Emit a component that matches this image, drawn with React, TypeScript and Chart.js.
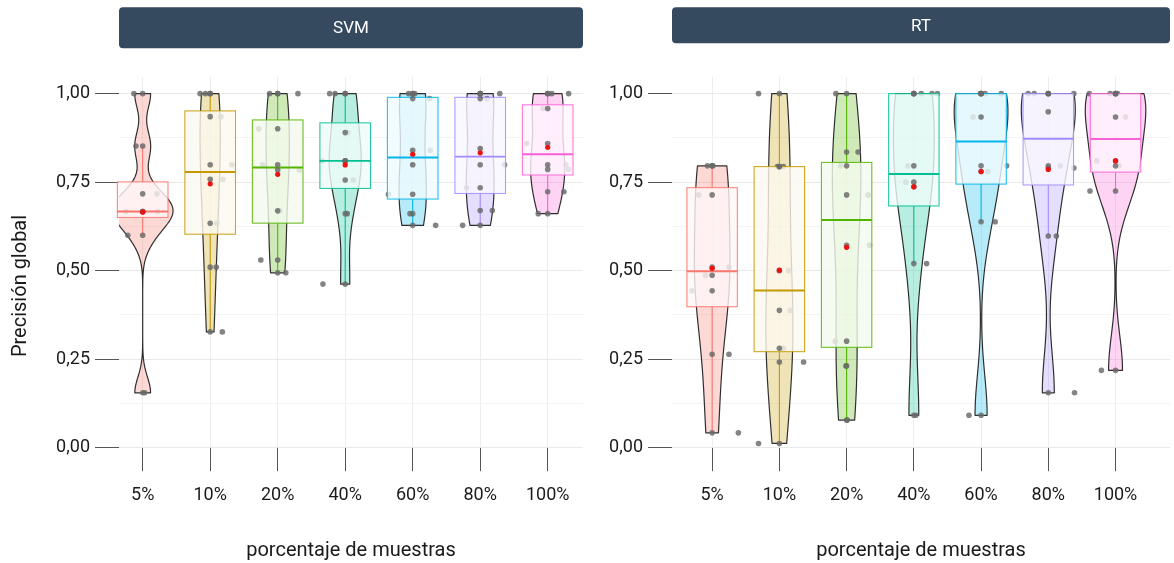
import React, { useEffect, useRef } from "react";
import { Chart, registerables } from "chart.js";

Chart.register(...registerables);

// Sample sizes on the x axis, one colour per size (ggplot hue palette)
const categories = ["5%", "10%", "20%", "40%", "60%", "80%", "100%"];
const groupColors = ["#F8766D", "#C49A00", "#53B400", "#00C094", "#00B6EB", "#A58AFF", "#FB61D7"];

// y grid: labelled majors every 0.25, unlabelled minors in between
const yTickValues = [0, 0.125, 0.25, 0.375, 0.5, 0.625, 0.75, 0.875, 1];
const yMajorTicks = [0, 0.25, 0.5, 0.75, 1];

// SVM – global accuracy of the 8 runs per sample size
const svm5 = [1, 0.852, 0.717, 0.667, 0.667, 0.667, 0.6, 0.155];
const svm10 = [1, 1, 0.935, 0.799, 0.758, 0.634, 0.51, 0.327];
const svm20 = [1, 1, 0.901, 0.799, 0.784, 0.669, 0.53, 0.494];
const svm40 = [1, 1, 0.89, 0.81, 0.81, 0.756, 0.661, 0.462];
const svm60 = [1, 1, 0.986, 0.84, 0.799, 0.716, 0.661, 0.628];
const svm80 = [1, 1, 0.986, 0.845, 0.799, 0.734, 0.67, 0.628];
const svm100 = [1, 1, 0.958, 0.859, 0.799, 0.786, 0.723, 0.661];

// SVM – horizontal jitter of each run (in category units)
const svm5Jitter = [-0.13, -0.1, 0.21, -0.25, 0.22, 0.01, -0.22, 0.03];
const svm10Jitter = [-0.15, -0.07, 0.16, 0.32, 0.19, 0.1, 0.09, 0.18];
const svm20Jitter = [-0.12, 0.3, -0.28, -0.22, 0.32, 0.03, -0.25, 0.12];
const svm40Jitter = [-0.23, -0.15, 0.04, -0.34, 0.01, 0.12, 0.03, -0.33];
const svm60Jitter = [-0.06, 0.03, 0.25, 0.26, 0.0, -0.36, -0.04, 0.34];
const svm80Jitter = [0.29, 0.0, 0.1, 0.0, 0.36, -0.2, 0.18, -0.26];
const svm100Jitter = [0.06, 0.31, -0.07, -0.31, 0.27, 0.31, 0.24, -0.14];

// RT – global accuracy of the 8 runs per sample size
const rt5 = [0.796, 0.796, 0.714, 0.51, 0.487, 0.443, 0.264, 0.042];
const rt10 = [1, 0.794, 0.794, 0.5, 0.388, 0.281, 0.242, 0.012];
const rt20 = [1, 0.835, 0.796, 0.714, 0.572, 0.301, 0.231, 0.078];
const rt40 = [1, 1, 1, 0.796, 0.75, 0.737, 0.52, 0.0915];
const rt60 = [1, 1, 1, 0.934, 0.796, 0.78, 0.638, 0.0915];
const rt80 = [1, 1, 1, 0.949, 0.796, 0.79, 0.598, 0.155];
const rt100 = [1, 1, 1, 0.934, 0.81, 0.796, 0.725, 0.2185];

// RT – horizontal jitter of each run (in category units)
const rt5Jitter = [-0.07, 0.01, -0.2, 0.25, -0.1, -0.3, 0.25, 0.39];
const rt10Jitter = [-0.31, 0.06, -0.03, 0.14, 0.16, 0.06, 0.36, -0.31];
const rt20Jitter = [-0.16, 0.17, -0.09, 0.32, 0.34, -0.17, -0.01, 0.01];
const rt40Jitter = [0.11, 0.27, 0.35, -0.09, -0.12, 0.01, 0.19, 0.03];
const rt60Jitter = [0.06, 0.3, -0.01, -0.12, 0.38, 0.1, 0.21, -0.18];
const rt80Jitter = [-0.3, -0.21, 0.38, -0.01, 0.18, 0.38, 0.12, 0.39];
const rt100Jitter = [-0.39, -0.08, 0.03, 0.15, -0.28, 0.05, -0.38, -0.21];

const svmRuns = [svm5, svm10, svm20, svm40, svm60, svm80, svm100];
const svmJitter = [svm5Jitter, svm10Jitter, svm20Jitter, svm40Jitter, svm60Jitter, svm80Jitter, svm100Jitter];
const rtRuns = [rt5, rt10, rt20, rt40, rt60, rt80, rt100];
const rtJitter = [rt5Jitter, rt10Jitter, rt20Jitter, rt40Jitter, rt60Jitter, rt80Jitter, rt100Jitter];

const FONT = "Roboto, 'Noto Sans', sans-serif";
const TEXT = "#1a1a1a";
const Y_MAX = 1.047;
const BOX_WIDTH = 0.75;
const VIOLIN_WIDTH = 0.9;

function hexToRgba(hex: string, a: number) {
  const n = parseInt(hex.slice(1), 16);
  return `rgba(${(n >> 16) & 255},${(n >> 8) & 255},${n & 255},${a})`;
}

function quantile7(sorted: number[], p: number) {
  const h = (sorted.length - 1) * p;
  const lo = Math.floor(h);
  const hi = Math.min(lo + 1, sorted.length - 1);
  return sorted[lo] + (h - lo) * (sorted[hi] - sorted[lo]);
}

type Summary = {
  q1: number; med: number; q3: number; lo: number; hi: number;
  mean: number; min: number; max: number;
};

function summarize(values: number[]): Summary {
  const s = [...values].sort((a, b) => a - b);
  const q1 = quantile7(s, 0.25);
  const med = quantile7(s, 0.5);
  const q3 = quantile7(s, 0.75);
  const iqr = q3 - q1;
  const lo = s.find((v) => v >= q1 - 1.5 * iqr) ?? s[0];
  const hi = [...s].reverse().find((v) => v <= q3 + 1.5 * iqr) ?? s[s.length - 1];
  const mean = s.reduce((a, b) => a + b, 0) / s.length;
  return { q1, med, q3, lo, hi, mean, min: s[0], max: s[s.length - 1] };
}

// Silverman's rule of thumb (R's bw.nrd0)
function bandwidth(values: number[]) {
  const n = values.length;
  const s = [...values].sort((a, b) => a - b);
  const mean = s.reduce((a, b) => a + b, 0) / n;
  const sd = Math.sqrt(s.reduce((a, v) => a + (v - mean) ** 2, 0) / (n - 1));
  const iqr = quantile7(s, 0.75) - quantile7(s, 0.25);
  let lo = Math.min(sd, iqr / 1.34);
  if (!(lo > 0)) lo = sd || 1;
  return 0.9 * lo * Math.pow(n, -0.2);
}

function kde(values: number[], bw: number, y: number) {
  let sum = 0;
  for (const v of values) {
    const z = (y - v) / bw;
    sum += Math.exp(-0.5 * z * z);
  }
  return sum / (values.length * bw * Math.sqrt(2 * Math.PI));
}

type Violin = { ys: number[]; hw: number[] };

// Trimmed Gaussian densities, widths scaled by area across the panel
function buildViolins(runs: number[][]): Violin[] {
  const steps = 140;
  const shapes = runs.map((vals) => {
    const bw = bandwidth(vals);
    const lo = Math.min(...vals);
    const hi = Math.max(...vals);
    const ys: number[] = [];
    const ds: number[] = [];
    for (let k = 0; k <= steps; k++) {
      const yv = lo + ((hi - lo) * k) / steps;
      ys.push(yv);
      ds.push(kde(vals, bw, yv));
    }
    return { ys, ds };
  });
  const maxD = Math.max(...shapes.flatMap((s) => s.ds));
  return shapes.map((s) => ({ ys: s.ys, hw: s.ds.map((d) => (VIOLIN_WIDTH / 2) * (d / maxD)) }));
}

function makeLayerPlugin(violins: Violin[], stats: Summary[], boxAfterIndex: number) {
  return {
    id: "violinBox",
    beforeDatasetsDraw(chart: any) {
      const { ctx, chartArea, scales } = chart;
      const x = scales.x;
      const y = scales.y;
      ctx.save();
      ctx.beginPath();
      ctx.rect(chartArea.left, chartArea.top, chartArea.right - chartArea.left, chartArea.bottom - chartArea.top);
      ctx.clip();
      violins.forEach((v, g) => {
        const c = g + 1;
        ctx.beginPath();
        for (let k = 0; k < v.ys.length; k++) {
          const px = x.getPixelForValue(c - v.hw[k]);
          const py = y.getPixelForValue(v.ys[k]);
          if (k === 0) ctx.moveTo(px, py);
          else ctx.lineTo(px, py);
        }
        for (let k = v.ys.length - 1; k >= 0; k--) {
          ctx.lineTo(x.getPixelForValue(c + v.hw[k]), y.getPixelForValue(v.ys[k]));
        }
        ctx.closePath();
        ctx.fillStyle = hexToRgba(groupColors[g], 0.28);
        ctx.fill();
        ctx.lineWidth = 1.2;
        ctx.lineJoin = "round";
        ctx.strokeStyle = "rgba(25,25,25,0.9)";
        ctx.stroke();
      });
      ctx.restore();
    },
    afterDatasetDraw(chart: any, args: any) {
      if (args.index !== boxAfterIndex) return;
      const { ctx, scales } = chart;
      const x = scales.x;
      const y = scales.y;
      ctx.save();
      stats.forEach((s, g) => {
        const c = g + 1;
        const col = groupColors[g];
        const cx = x.getPixelForValue(c);
        const x0 = x.getPixelForValue(c - BOX_WIDTH / 2);
        const x1 = x.getPixelForValue(c + BOX_WIDTH / 2);
        const yq1 = y.getPixelForValue(s.q1);
        const yq3 = y.getPixelForValue(s.q3);
        const ymed = y.getPixelForValue(s.med);
        // whiskers
        ctx.strokeStyle = col;
        ctx.lineWidth = 1.1;
        ctx.beginPath();
        ctx.moveTo(cx, y.getPixelForValue(s.hi));
        ctx.lineTo(cx, yq3);
        ctx.moveTo(cx, yq1);
        ctx.lineTo(cx, y.getPixelForValue(s.lo));
        ctx.stroke();
        // box
        ctx.fillStyle = "rgba(255,255,255,0.8)";
        ctx.fillRect(x0, yq3, x1 - x0, yq1 - yq3);
        ctx.fillStyle = hexToRgba(col, 0.05);
        ctx.fillRect(x0, yq3, x1 - x0, yq1 - yq3);
        ctx.strokeStyle = hexToRgba(col, 0.85);
        ctx.lineWidth = 1.1;
        ctx.strokeRect(x0, yq3, x1 - x0, yq1 - yq3);
        // median
        ctx.strokeStyle = col;
        ctx.lineWidth = 1.9;
        ctx.beginPath();
        ctx.moveTo(x0, ymed);
        ctx.lineTo(x1, ymed);
        ctx.stroke();
      });
      ctx.restore();
    },
  };
}

// Facet strip above the panel, plus the optional y-axis caption
const stripPlugin = {
  id: "strip",
  afterDraw(chart: any, _args: any, opts: any) {
    const { ctx, chartArea } = chart;
    const left = chartArea.left;
    const right = chartArea.right;
    ctx.save();
    ctx.fillStyle = "#35495f";
    ctx.beginPath();
    ctx.roundRect(left, opts.top, right - left, opts.bottom - opts.top, 4);
    ctx.fill();
    ctx.fillStyle = "#ffffff";
    ctx.font = `17px ${FONT}`;
    ctx.textAlign = "center";
    ctx.textBaseline = "middle";
    ctx.fillText(opts.text, (left + right) / 2, (opts.top + opts.bottom) / 2 + 1);
    if (opts.yTitle) {
      ctx.translate(opts.yTitleX, opts.yTitleY);
      ctx.rotate(-Math.PI / 2);
      ctx.fillStyle = TEXT;
      ctx.font = `20px ${FONT}`;
      ctx.fillText(opts.yTitle, 0, 0);
    }
    ctx.restore();
  },
};

type PanelProps = {
  title: string;
  runs: number[][];
  jitter: number[][];
  left: number;
  width: number;
  axisWidth: number;
  padRight: number;
  xMin: number;
  xMax: number;
  stripBottom: number;
  yTitle: string;
};

function Panel(props: PanelProps) {
  const ref = useRef<HTMLCanvasElement>(null);

  useEffect(() => {
    const { runs, jitter } = props;
    const stats = runs.map(summarize);
    const violins = buildViolins(runs);

    const jitterPoints = runs.flatMap((vals, g) => vals.map((v, k) => ({ x: g + 1 + jitter[g][k], y: v })));
    const centerPoints = runs.flatMap((vals, g) => vals.map((v) => ({ x: g + 1, y: v })));
    const meanPoints = stats.map((s, g) => ({ x: g + 1, y: s.mean }));

    let chart: Chart | null = null;
    let cancelled = false;

    const build = () => {
      if (cancelled || !ref.current) return;
      chart = new Chart(ref.current, {
        type: "scatter",
        data: {
          datasets: [
            {
              label: "media",
              data: meanPoints,
              order: 1,
              pointRadius: 2.6,
              pointBackgroundColor: "#ee1111",
              pointBorderWidth: 0,
            },
            {
              label: "ejecuciones",
              data: centerPoints,
              order: 2,
              pointRadius: 2.8,
              pointBackgroundColor: "rgba(105,105,105,0.82)",
              pointBorderWidth: 0,
            },
            {
              label: "ejecuciones (jitter)",
              data: jitterPoints,
              order: 3,
              pointRadius: 2.8,
              pointBackgroundColor: "rgba(105,105,105,0.82)",
              pointBorderWidth: 0,
            },
          ],
        },
        options: {
          responsive: false,
          animation: false,
          events: [],
          layout: { padding: { top: 77, left: 0, right: props.padRight, bottom: 0 } },
          plugins: {
            legend: { display: false },
            tooltip: { enabled: false },
            strip: {
              text: props.title,
              top: 7.3,
              bottom: props.stripBottom,
              yTitle: props.yTitle,
              yTitleX: 21,
              yTitleY: 286,
            },
          } as any,
          scales: {
            x: {
              type: "linear",
              min: props.xMin,
              max: props.xMax,
              border: { display: false },
              grid: {
                color: "#ededed",
                lineWidth: 1,
                tickColor: "#555555",
                tickLength: 23.5,
                tickWidth: 1,
              },
              ticks: {
                autoSkip: false,
                maxRotation: 0,
                padding: 13,
                color: TEXT,
                font: { family: FONT, size: 18 },
                callback: (v: any) => categories[Math.round(Number(v)) - 1] ?? "",
              },
              title: {
                display: true,
                text: "porcentaje de muestras",
                color: TEXT,
                font: { family: FONT, size: 20 },
                padding: { top: 0, bottom: 0 },
              },
              afterBuildTicks: (scale: any) => {
                scale.ticks = categories.map((_, i) => ({ value: i + 1 }));
              },
              afterFit: (scale: any) => {
                scale.height = 115.3;
              },
            },
            y: {
              type: "linear",
              min: 0,
              max: Y_MAX,
              border: { display: false },
              grid: {
                color: (ctx: any) =>
                  yMajorTicks.includes(ctx.tick?.value) ? "#e9e9e9" : "#f4f4f4",
                tickColor: (ctx: any) =>
                  yMajorTicks.includes(ctx.tick?.value) ? "#555555" : "rgba(0,0,0,0)",
                lineWidth: 1,
                tickLength: 24,
              },
              ticks: {
                autoSkip: false,
                padding: 5,
                color: TEXT,
                font: { family: FONT, size: 18 },
                callback: (v: any) =>
                  yMajorTicks.includes(Number(v)) ? Number(v).toFixed(2).replace(".", ",") : "",
              },
              afterBuildTicks: (scale: any) => {
                scale.ticks = yTickValues.map((v) => ({ value: v }));
              },
              afterFit: (scale: any) => {
                scale.width = props.axisWidth;
              },
            },
          },
        } as any,
        plugins: [makeLayerPlugin(violins, stats, 2) as any, stripPlugin as any],
      });
    };

    const fonts = (document as any).fonts;
    if (fonts && fonts.load) {
      Promise.all([fonts.load(`17px Roboto`), fonts.load(`20px Roboto`)]).then(build, build);
    } else {
      build();
    }

    return () => {
      cancelled = true;
      if (chart) chart.destroy();
    };
  }, []);

  return (
    <canvas
      ref={ref}
      width={props.width}
      height={563}
      style={{ position: "absolute", left: props.left, top: 0, width: props.width, height: 563 }}
    />
  );
}

export default function App() {
  return (
    <div
      style={{
        position: "fixed",
        left: 0,
        top: 0,
        width: 1174,
        height: 563,
        background: "#ffffff",
        overflow: "hidden",
      }}
    >
      <Panel
        title="SVM"
        runs={svmRuns}
        jitter={svmJitter}
        left={0}
        width={592}
        axisWidth={119}
        padRight={9}
        xMin={0.649}
        xMax={7.523}
        stripBottom={48.3}
        yTitle="Precisión global"
      />
      <Panel
        title="RT"
        runs={rtRuns}
        jitter={rtJitter}
        left={592}
        width={582}
        axisWidth={80}
        padRight={2}
        xMin={0.403}
        xMax={7.81}
        stripBottom={43.3}
        yTitle=""
      />
    </div>
  );
}
